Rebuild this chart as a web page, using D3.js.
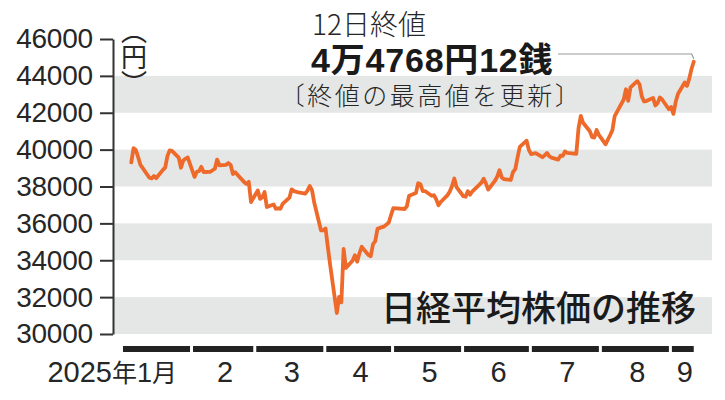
<!DOCTYPE html>
<html>
<head>
<meta charset="utf-8">
<script src="https://cdn.jsdelivr.net/npm/d3@7"></script>
<style>
  body { margin: 0; background: #fff; }
  svg { display: block; }
</style>
</head>
<body>
<div id="chart"></div>
<script>
// DAILY CLOSES (NIKKEI 225, 2025)
var dates = [
  "2025-01-06", "2025-01-07", "2025-01-08", "2025-01-09", "2025-01-10", "2025-01-14", "2025-01-15", "2025-01-16",
  "2025-01-17", "2025-01-20", "2025-01-21", "2025-01-22", "2025-01-23", "2025-01-24", "2025-01-27", "2025-01-28",
  "2025-01-29", "2025-01-30", "2025-01-31",
  "2025-02-03", "2025-02-04", "2025-02-05", "2025-02-06", "2025-02-07", "2025-02-10", "2025-02-12", "2025-02-13",
  "2025-02-14", "2025-02-17", "2025-02-18", "2025-02-19", "2025-02-20", "2025-02-21", "2025-02-25", "2025-02-26",
  "2025-02-27", "2025-02-28",
  "2025-03-03", "2025-03-04", "2025-03-05", "2025-03-06", "2025-03-07", "2025-03-10", "2025-03-11", "2025-03-12",
  "2025-03-13", "2025-03-14", "2025-03-17", "2025-03-18", "2025-03-19", "2025-03-21", "2025-03-24", "2025-03-25",
  "2025-03-26", "2025-03-27", "2025-03-28", "2025-03-31",
  "2025-04-01", "2025-04-02", "2025-04-03", "2025-04-04", "2025-04-07", "2025-04-08", "2025-04-09", "2025-04-10",
  "2025-04-11", "2025-04-14", "2025-04-15", "2025-04-16", "2025-04-17", "2025-04-18", "2025-04-21", "2025-04-22",
  "2025-04-23", "2025-04-24", "2025-04-25", "2025-04-28", "2025-04-30",
  "2025-05-01", "2025-05-02", "2025-05-07", "2025-05-08", "2025-05-09", "2025-05-12", "2025-05-13", "2025-05-14",
  "2025-05-15", "2025-05-16", "2025-05-19", "2025-05-20", "2025-05-21", "2025-05-22", "2025-05-23", "2025-05-26",
  "2025-05-27", "2025-05-28", "2025-05-29", "2025-05-30",
  "2025-06-02", "2025-06-03", "2025-06-04", "2025-06-05", "2025-06-06", "2025-06-09", "2025-06-10", "2025-06-11",
  "2025-06-12", "2025-06-13", "2025-06-16", "2025-06-17", "2025-06-18", "2025-06-19", "2025-06-20", "2025-06-23",
  "2025-06-24", "2025-06-25", "2025-06-26", "2025-06-27", "2025-06-30",
  "2025-07-01", "2025-07-02", "2025-07-03", "2025-07-04", "2025-07-07", "2025-07-08", "2025-07-09", "2025-07-10",
  "2025-07-11", "2025-07-14", "2025-07-15", "2025-07-16", "2025-07-17", "2025-07-18", "2025-07-22", "2025-07-23",
  "2025-07-24", "2025-07-25", "2025-07-28", "2025-07-29", "2025-07-30", "2025-07-31",
  "2025-08-01", "2025-08-04", "2025-08-05", "2025-08-06", "2025-08-07", "2025-08-08", "2025-08-12", "2025-08-13",
  "2025-08-14", "2025-08-15", "2025-08-18", "2025-08-19", "2025-08-20", "2025-08-21", "2025-08-22", "2025-08-25",
  "2025-08-26", "2025-08-27", "2025-08-28", "2025-08-29",
  "2025-09-01", "2025-09-02", "2025-09-03", "2025-09-04", "2025-09-05", "2025-09-08", "2025-09-09", "2025-09-10",
  "2025-09-11", "2025-09-12"
];

var closes = [
  39307, 40083, 39981, 39605, 39190, 38474, 38444, 38572,
  38451, 38902, 39027, 39646, 39958, 39931, 39565, 39016,
  39414, 39513, 39572,
  38520, 38798, 38831, 39066, 38787, 38801, 38963, 39461,
  39149, 39174, 39270, 39164, 38678, 38776, 38237, 38142,
  38256, 37155,
  37785, 37331, 37418, 37704, 36887, 37028, 36793, 36819,
  36790, 37053, 37396, 37845, 37751, 37677, 37608, 37780,
  38027, 37799, 37120, 35617,
  35624, 35725, 34735, 33780, 31136, 32013, 31714, 34609,
  33585, 33982, 34267, 33920, 34377, 34730, 34280, 34220,
  34868, 35039, 35705, 35839, 36045,
  36452, 36831, 36780, 36928, 37503, 37644, 38183, 38128,
  37755, 37753, 37498, 37529, 37299, 36985, 37160, 37532,
  37724, 38022, 38433, 37965,
  37471, 37446, 37747, 37554, 37741, 38089, 38211, 38421,
  38173, 37834, 38311, 38536, 38885, 38488, 38403, 38354,
  38790, 38942, 39584, 40150, 40487,
  39986, 39762, 39785, 39810, 39587, 39688, 39821, 39646,
  39569, 39459, 39678, 39663, 39901, 39819, 39774, 41171,
  41826, 41456, 40998, 40674, 40654, 41069,
  40799, 40290, 40549, 40794, 41059, 41820, 42718, 43274,
  42649, 43378, 43714, 43546, 42888, 42610, 42633, 42807,
  42394, 42520, 42829, 42718,
  42188, 42310, 41938, 42580, 43018, 43643, 43459, 43837,
  44372, 44768
];

var yTicks = [30000, 32000, 34000, 36000, 38000, 40000, 42000, 44000, 46000];
var bandStarts = [30000, 34000, 38000, 42000];
var monthStarts = ["2025-01-01", "2025-02-01", "2025-03-01", "2025-04-01", "2025-05-01",
  "2025-06-01", "2025-07-01", "2025-08-01", "2025-09-01", "2025-10-01"];
var monthLabels = ["1月", "2", "3", "4", "5", "6", "7", "8", "9"];

var svgWidth = 725;
var svgHeight = 400;

var numFont = "'Liberation Sans', Arial, 'Noto Sans CJK JP', sans-serif";
var jpFont = "'Noto Sans CJK JP', 'Noto Sans', sans-serif";

var parseDate = d3.timeParse("%Y-%m-%d");
var data = dates.map(function(d, i) {
  return { date: parseDate(d), value: closes[i] };
});
var last = data[data.length - 1];

var svg = d3.select("#chart")
  .append("svg")
  .attr("width", svgWidth)
  .attr("height", svgHeight);

// SCALES
var x = d3.scaleTime()
  .domain([parseDate("2025-01-01"), parseDate("2025-09-13")])
  .range([120, 696]);

var y = d3.scaleLinear()
  .domain([30000, 46000])
  .range([334, 39]);

// GREY BANDS
svg.append("g").selectAll("rect")
  .data(bandStarts)
  .enter()
  .append("rect")
  .attr("x", 113)
  .attr("width", 712 - 113)
  .attr("y", d => y(d + 2000))
  .attr("height", d => y(d) - y(d + 2000))
  .attr("fill", "#e5e6e6");

// Y AXIS
var leftAxis = d3.axisLeft(y)
  .tickValues(yTicks)
  .tickSize(13)
  .tickSizeOuter(0)
  .tickPadding(7)
  .tickFormat(d3.format("d"));

var yAxis = svg.append("g")
  .attr("transform", "translate(113,0)")
  .call(leftAxis);

yAxis.select(".domain").attr("stroke", "#333").attr("stroke-width", 2);
yAxis.selectAll(".tick line").attr("stroke", "#333").attr("stroke-width", 2);
yAxis.selectAll(".tick text")
  .attr("fill", "#262626")
  .attr("font-family", numFont)
  .attr("font-size", 28)
  .attr("letter-spacing", -0.2);

// UNIT LABEL (vertical)
svg.append("text")
  .attr("x", 134)
  .attr("y", 57)
  .attr("text-anchor", "middle")
  .attr("writing-mode", "vertical-rl")
  .attr("font-family", jpFont)
  .attr("font-size", 26)
  .attr("fill", "#262626")
  .text("（円）");

// MONTH BARS
var monthGroup = svg.append("g");
monthLabels.forEach(function(label, i) {
  var x0 = x(parseDate(monthStarts[i])) + 3;
  var x1 = i < monthLabels.length - 1 ? x(parseDate(monthStarts[i + 1])) : x(last.date);
  monthGroup.append("rect")
    .attr("x", x0)
    .attr("y", 346)
    .attr("width", x1 - x0)
    .attr("height", 6)
    .attr("fill", "#222");
  var t = monthGroup.append("text")
    .attr("y", 382)
    .attr("fill", "#262626")
    .attr("font-family", numFont)
    .attr("font-size", 29);
  if (i === 0) {
    t.attr("x", 177).attr("text-anchor", "end");
    t.append("tspan").text("2025");
    t.append("tspan").attr("font-family", jpFont).attr("font-size", 25).text("年");
    t.append("tspan").attr("font-size", 27).text("1");
    t.append("tspan").attr("font-family", jpFont).attr("font-size", 25).text("月");
  } else {
    t.attr("x", (x0 + x1) / 2 + 2).attr("text-anchor", "middle").text(label);
  }
});

// LINE
var line = d3.line()
  .x(d => x(d.date))
  .y(d => y(d.value));

svg.append("path")
  .datum(data)
  .attr("d", line)
  .attr("fill", "none")
  .attr("stroke", "#ee6a2b")
  .attr("stroke-width", 3.8)
  .attr("stroke-linejoin", "round")
  .attr("stroke-linecap", "round");

// ANNOTATION
var lx = x(last.date);
var ly = y(last.value);
svg.append("path")
  .attr("d", `M558,54 H${lx - 2} L${lx},${ly - 3}`)
  .attr("fill", "none")
  .attr("stroke", "#9a9a9a")
  .attr("stroke-width", 1.2);

svg.append("text")
  .attr("x", 312)
  .attr("y", 35)
  .attr("font-family", jpFont)
  .attr("font-weight", 300)
  .attr("font-size", 28)
  .attr("fill", "#262626")
  .text("12日終値");

svg.append("text")
  .attr("x", 311)
  .attr("y", 72)
  .attr("font-family", numFont)
  .attr("font-weight", "bold")
  .attr("font-size", 34)
  .attr("letter-spacing", 0.8)
  .attr("fill", "#1a1a1a")
  .text("4万4768円12銭");

svg.append("text")
  .attr("x", 431)
  .attr("y", 105)
  .attr("text-anchor", "middle")
  .attr("font-family", jpFont)
  .attr("font-weight", 300)
  .attr("font-size", 25)
  .attr("letter-spacing", 2.5)
  .attr("fill", "#262626")
  .text("〔終値の最高値を更新〕");

// TITLE
svg.append("text")
  .attr("x", 696)
  .attr("y", 321)
  .attr("text-anchor", "end")
  .attr("font-family", jpFont)
  .attr("font-weight", 500)
  .attr("font-size", 35)
  .attr("fill", "#1a1a1a")
  .text("日経平均株価の推移");
</script>
</body>
</html>
